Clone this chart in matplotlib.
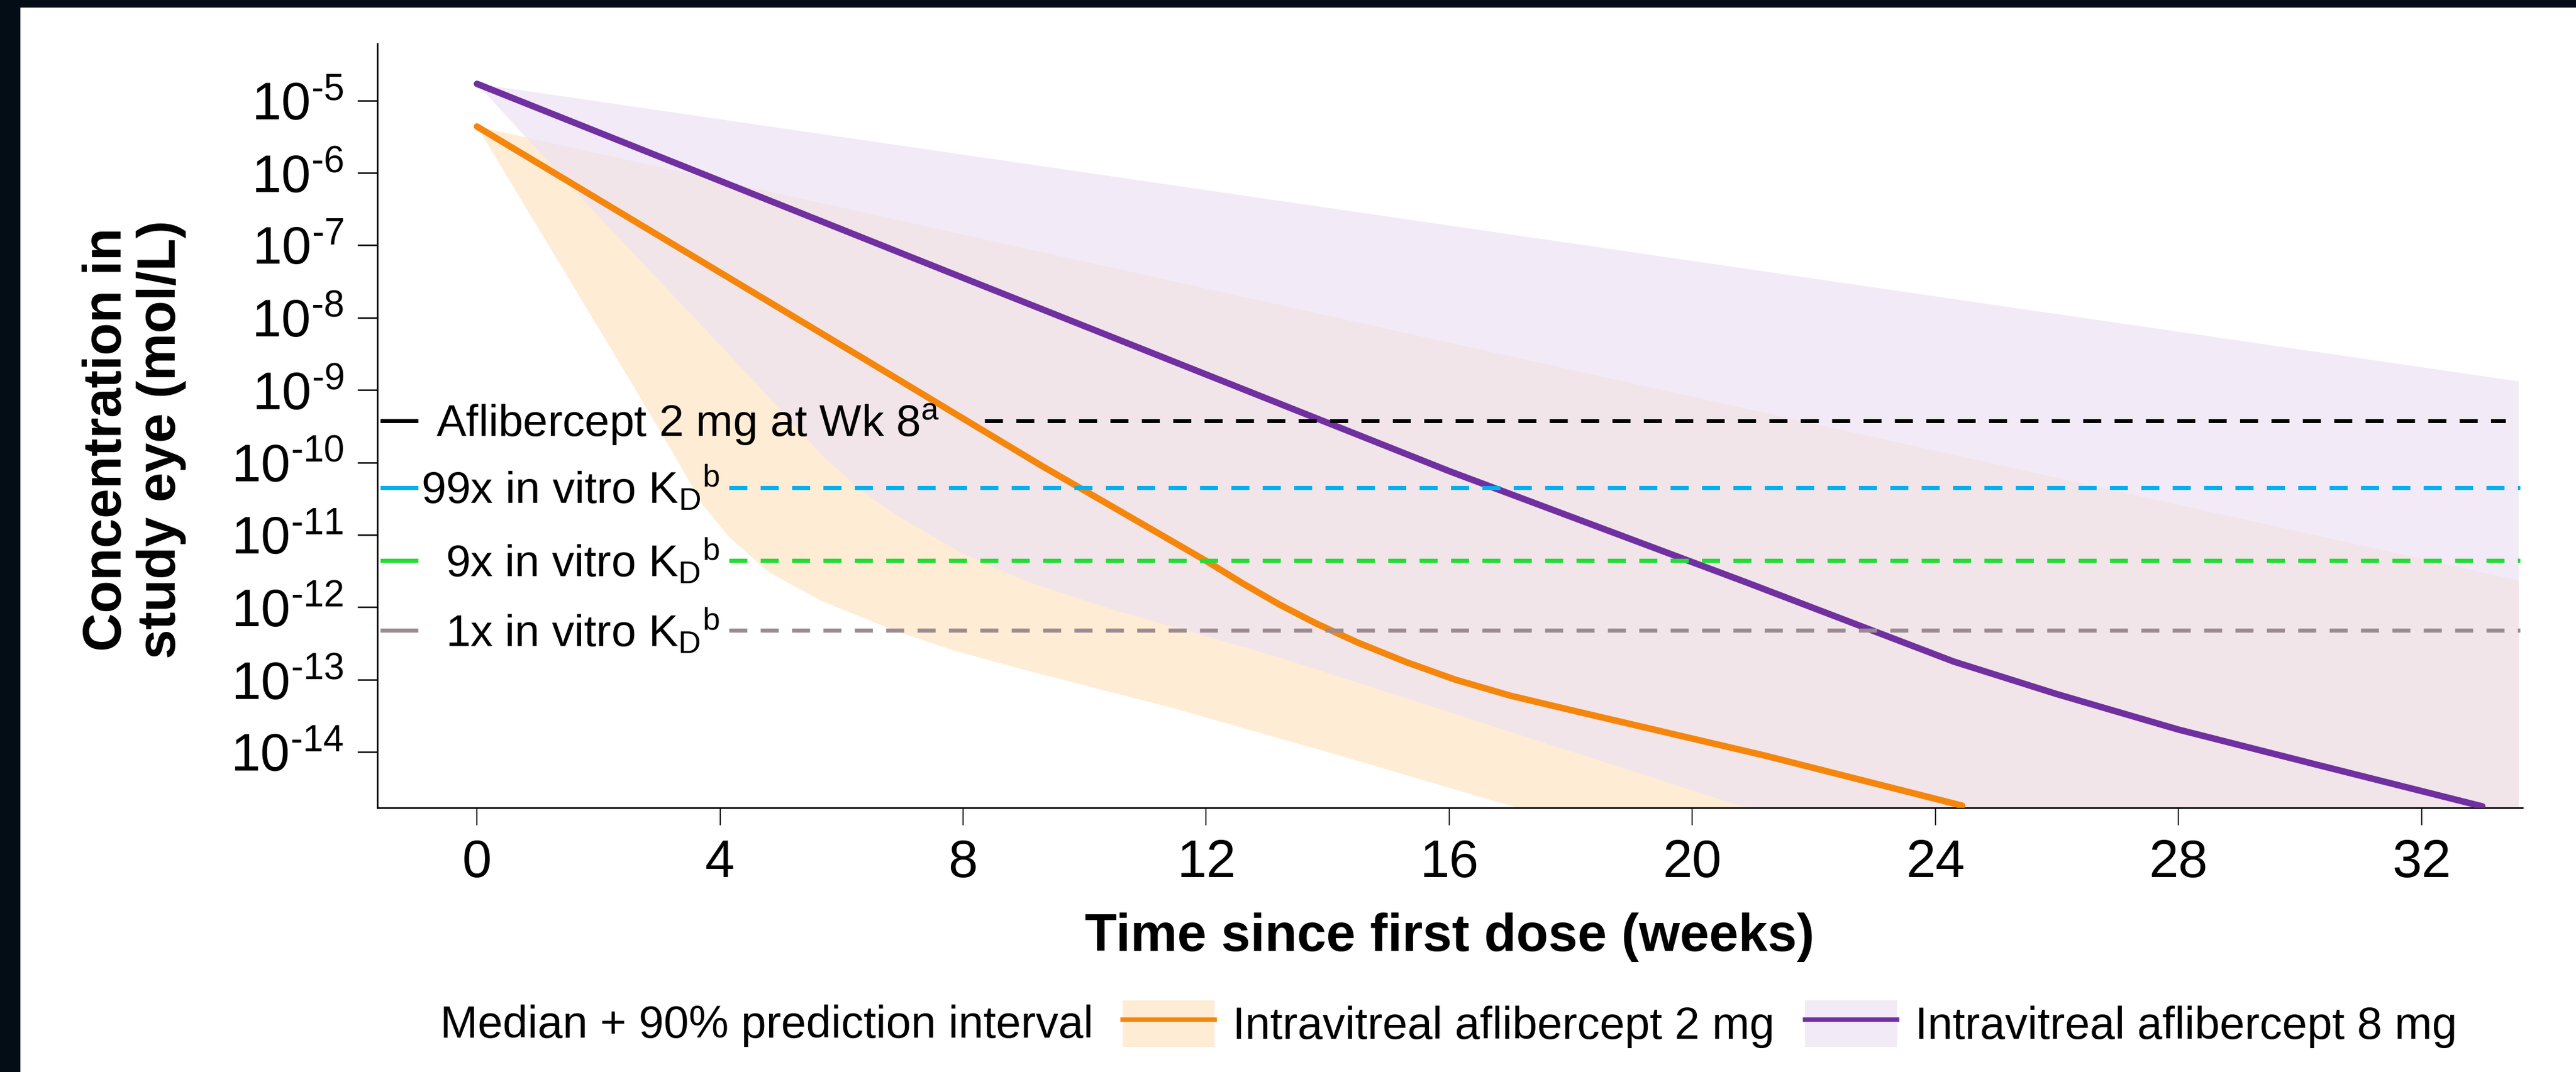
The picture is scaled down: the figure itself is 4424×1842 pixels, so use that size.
import numpy as np
import matplotlib.pyplot as plt
from matplotlib.patches import Patch, Rectangle
from matplotlib.lines import Line2D
from matplotlib.legend_handler import HandlerTuple
from matplotlib.ticker import FuncFormatter, NullLocator

plt.rcParams['font.family'] = ['Liberation Sans', 'DejaVu Sans']
plt.rcParams['mathtext.fontset'] = 'custom'
plt.rcParams['mathtext.rm'] = 'Liberation Sans'
plt.rcParams['mathtext.it'] = 'Liberation Sans:italic'
plt.rcParams['mathtext.bf'] = 'Liberation Sans:bold'

# Median curves: weeks and log10 concentration (mol/L)
wk_2mg = [0, 6.47, 9.28, 12.0, 12.6, 13.2, 13.8, 14.5, 15.3, 16.1, 17.0, 18.1, 21.2, 24.44]
log_2mg = [-5.36, -8.62, -10.04, -11.36, -11.67, -11.96, -12.22, -12.49, -12.76, -13.0,
           -13.22, -13.44, -14.05, -14.74]
wk_8mg = [0, 8, 16, 20.9, 24.3, 26.0, 28.0, 30.3, 33.0]
log_8mg = [-4.77, -7.45, -10.12, -11.66, -12.75, -13.2, -13.69, -14.18, -14.75]

# 90% prediction interval bounds
pi2_hi_wk = [0, 33.6]
pi2_hi_log = [-5.36, -11.63]
pi2_lo_wk = [0, 1.0, 2.5, 3.2, 3.71, 4.15, 4.81, 5.69, 6.87, 7.82, 8.99, 11.4, 14.0, 17.04, 20.0, 33.6]
pi2_lo_log = [-5.36, -6.75, -8.84, -9.83, -10.58, -11.03, -11.52, -11.92, -12.32, -12.59, -12.86,
              -13.38, -14.0, -14.75, -15.5, -17.0]
pi8_hi_wk = [0, 33.6]
pi8_hi_log = [-4.77, -8.88]
pi8_lo_wk = [0, 2.0, 4.52, 5.04, 5.69, 6.28, 6.87, 7.97, 9.07, 10.53, 12.0, 13.23, 20.7, 33.6]
pi8_lo_log = [-4.77, -6.6, -8.84, -9.32, -9.91, -10.36, -10.71, -11.25, -11.65, -12.05, -12.4,
              -12.7, -14.72, -17.0]

# Reference concentrations
ref_labels = [r'Aflibercept 2 mg at Wk 8$^{\mathregular{a}}$',
              r'99x in vitro K$_{\mathregular{D}}{}^{\mathregular{b}}$',
              r'9x in vitro K$_{\mathregular{D}}{}^{\mathregular{b}}$',
              r'1x in vitro K$_{\mathregular{D}}{}^{\mathregular{b}}$']
ref_values = [3.8e-10, 4.5e-11, 4.4e-12, 4.8e-13]
ref_colors = ['#000000', '#00B0F0', '#22DD33', '#9B8A8F']

xticks = [0, 4, 8, 12, 16, 20, 24, 28, 32]
ytick_exps = list(range(-14, -4))

ORANGE = '#F5860C'
PURPLE = '#7030A0'
ORANGE_BAND = '#FEECD5'
PURPLE_BAND = '#EDE3F3'

fig = plt.figure(figsize=(44.24, 18.42), dpi=100)
ax = fig.add_axes([0.14647, 0.24647, 0.83273, 0.71281])

# dark frame on left and top
fig.add_artist(Rectangle((0, 0), 35 / 4424, 1, transform=fig.transFigure, color='#040D15', lw=0))
fig.add_artist(Rectangle((0, 1 - 13 / 1842), 1, 13 / 1842, transform=fig.transFigure, color='#040D15', lw=0))

# prediction interval bands
ax.fill(pi2_hi_wk + pi2_lo_wk[::-1], 10 ** np.array(pi2_hi_log + pi2_lo_log[::-1]),
        color=ORANGE_BAND, lw=0, zorder=1)
ax.fill(pi8_hi_wk + pi8_lo_wk[::-1], 10 ** np.array(pi8_hi_log + pi8_lo_log[::-1]),
        color=PURPLE_BAND, alpha=0.72, lw=0, zorder=1.5)

# medians
ax.plot(wk_2mg, 10 ** np.array(log_2mg), color=ORANGE, lw=8, solid_capstyle='round',
        solid_joinstyle='round', zorder=3)
ax.plot(wk_8mg, 10 ** np.array(log_8mg), color=PURPLE, lw=8, solid_capstyle='round',
        solid_joinstyle='round', zorder=3)

# reference lines with their labels
for i, (lab, val, col) in enumerate(zip(ref_labels, ref_values, ref_colors)):
    ax.plot([-1.588, -0.965], [val, val], color=col, lw=5, solid_capstyle='butt', zorder=4)
    if i == 0:
        ax.plot([8.35, 33.38], [val, val], color=col, lw=5, linestyle=(0, (4.46, 3.3)),
                dash_capstyle='butt', zorder=4)
        ax.annotate(lab, xy=(-0.67, val), xytext=(0, -19.5), textcoords='offset points',
                    ha='left', va='baseline', fontsize=55, zorder=5)
    else:
        ax.plot([4.15, 33.62], [val, val], color=col, lw=5, linestyle=(0, (4.46, 3.3)),
                dash_capstyle='butt', zorder=4)
        ax.annotate(lab, xy=(3.99, val), xytext=(0, -19.5), textcoords='offset points',
                    ha='right', va='baseline', fontsize=55, zorder=5)

ax.set_yscale('log')
ax.set_xlim(-1.64, 33.66)
ax.set_ylim(10 ** -14.77, 10 ** -4.215)
ax.set_xticks(xticks)
ax.set_yticks([10.0 ** e for e in ytick_exps])
ax.yaxis.set_minor_locator(NullLocator())
ax.yaxis.set_major_formatter(FuncFormatter(
    lambda v, _: '$\\mathregular{10^{\u2010%d}}$' % abs(int(round(np.log10(v))))))

for s in ['top', 'right']:
    ax.spines[s].set_visible(False)
for s in ['left', 'bottom']:
    ax.spines[s].set_linewidth(2)
ax.tick_params(axis='y', length=24.5, width=1.8, pad=17, labelsize=65.5)
ax.tick_params(axis='x', length=21.6, width=1.4, pad=16.5, labelsize=65.5)

ax.set_xlabel('Time since first dose (weeks)', fontsize=65, fontweight='bold')
ax.xaxis.set_label_coords(0.5, -0.137)
ax.set_ylabel('Concentration in\nstudy eye (mol/L)', fontsize=66, fontweight='bold', linespacing=1.1)
ax.yaxis.set_label_coords(-0.089, 0.482)

# bottom legend
fig.text(756 / 4424, 1 - 1783 / 1842, 'Median + 90% prediction interval', fontsize=55.5, va='baseline')
handles = [(Patch(facecolor=ORANGE_BAND, lw=0), Line2D([], [], color=ORANGE, lw=5.5)),
           (Patch(facecolor=PURPLE_BAND, alpha=0.72, lw=0), Line2D([], [], color=PURPLE, lw=5.5))]
fig.legend(handles, ['Intravitreal aflibercept 2 mg', 'Intravitreal aflibercept 8 mg'],
           handler_map={tuple: HandlerTuple(ndivide=1)}, loc='center left',
           bbox_to_anchor=(1928 / 4424, 1 - 1760 / 1842), ncol=2, frameon=False, fontsize=55.5,
           handlelength=2.05, handleheight=1.21, handletextpad=0.4, columnspacing=0.68,
           borderpad=0, borderaxespad=0)

fig.savefig('out.png', dpi=100)
